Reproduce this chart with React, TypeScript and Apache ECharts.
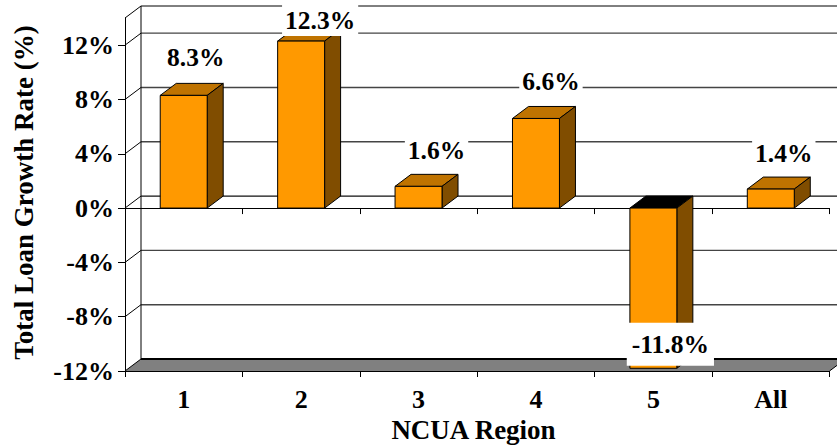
import React, { useEffect, useRef } from "react";
import * as echarts from "echarts";

const categories = ["1", "2", "3", "4", "5", "All"];
const growthRates = [8.3, 12.3, 1.6, 6.6, -11.8, 1.4];
const labelTexts = ["8.3%", "12.3%", "1.6%", "6.6%", "-11.8%", "1.4%"];
const yTicks = [-12, -8, -4, 0, 4, 8, 12];
const Y_MIN = -12;
const Y_MAX = 14;

// Hand-placed label nudges relative to the end of each bar's front face (px)
const labelNudges = [
  { dx: 12, dy: -38, pad: [2, 3] },
  { dx: 19, dy: -21, pad: [3, 3] },
  { dx: 18, dy: -36, pad: [2, 3] },
  { dx: 15, dy: -37, pad: [2, 3] },
  { dx: 17, dy: -24, pad: [9, 5, 8, 5] },
  { dx: 13, dy: -36, pad: [2, 3] },
];

const DEPTH_X = 16;
const DEPTH_Y = -12;
const SERIF = '"Liberation Serif", "Times New Roman", serif';
const FONT = `bold 25.5px ${SERIF}`;

const wallValues = [...yTicks.filter((v) => v !== 0), Y_MAX];

export default function App() {
  const ref = useRef<HTMLDivElement>(null);

  useEffect(() => {
    document.body.style.margin = "0";
    const chart = echarts.init(ref.current!, undefined, { renderer: "svg" });
    const axisText = { fontFamily: SERIF, fontWeight: "bold", fontSize: 26, color: "#000" };

    chart.setOption({
      animation: false,
      backgroundColor: "#fff",
      grid: { left: 125, top: 18, width: 704.5, height: 353, containLabel: false },
      xAxis: [
        {
          type: "category",
          data: categories,
          position: "bottom",
          axisLine: { onZero: false, lineStyle: { color: "#000", width: 1 } },
          axisTick: { show: true, length: 6, lineStyle: { color: "#000" } },
          axisLabel: { ...axisText, margin: 15, interval: 0 },
        },
        {
          type: "category",
          data: categories,
          position: "top",
          axisLine: { onZero: true, lineStyle: { color: "#000", width: 1 } },
          axisTick: { show: true, inside: true, length: 6, lineStyle: { color: "#000" } },
          axisLabel: { show: false },
        },
      ],
      yAxis: {
        type: "value",
        min: Y_MIN,
        max: Y_MAX,
        axisLine: { show: true, onZero: false, lineStyle: { color: "#000", width: 1 } },
        axisTick: { show: true, length: 7, customValues: yTicks, lineStyle: { color: "#000" } },
        axisLabel: { ...axisText, margin: 11, customValues: yTicks, formatter: "{value}%" },
        splitLine: { show: false },
      },
      graphic: [
        {
          type: "text",
          x: 24,
          y: 192.5,
          rotation: Math.PI / 2,
          style: {
            text: "Total Loan Growth Rate (%)",
            font: `bold 27px ${SERIF}`,
            fill: "#000",
            align: "center",
            verticalAlign: "middle",
          },
        },
        {
          type: "text",
          x: 473.5,
          y: 430,
          style: {
            text: "NCUA Region",
            font: `bold 27px ${SERIF}`,
            fill: "#000",
            align: "center",
            verticalAlign: "middle",
          },
        },
      ],
      series: [
        {
          // Back wall grid lines, left wall edges and the floor
          type: "custom",
          z: 1,
          silent: true,
          data: wallValues.map((v) => [0, v]),
          renderItem: (params: any, api: any) => {
            const cs = params.coordSys;
            const left = cs.x;
            const right = cs.x + cs.width;
            const y = api.coord([0, api.value(1)])[1];
            const children: any[] = [];
            const isTop = api.value(1) === Y_MAX;
            const isFloor = api.value(1) === Y_MIN;
            children.push({
              type: "line",
              shape: { x1: left, y1: y, x2: left + DEPTH_X, y2: y + DEPTH_Y },
              style: { stroke: "#000", lineWidth: 1 },
            });
            if (isFloor) {
              children.unshift({
                type: "polygon",
                shape: {
                  points: [
                    [left, y],
                    [left + DEPTH_X, y + DEPTH_Y],
                    [right + DEPTH_X, y + DEPTH_Y],
                    [right, y],
                  ],
                },
                style: { fill: "#808080", stroke: "none" },
              });
              children.push({
                type: "line",
                shape: { x1: left + DEPTH_X, y1: y + DEPTH_Y, x2: right + DEPTH_X, y2: y + DEPTH_Y },
                style: { stroke: "#000", lineWidth: 2 },
              });
              children.push({
                type: "line",
                shape: { x1: right, y1: y, x2: right + DEPTH_X, y2: y + DEPTH_Y },
                style: { stroke: "#000", lineWidth: 1 },
              });
            } else {
              children.push({
                type: "line",
                shape: { x1: left + DEPTH_X, y1: y + DEPTH_Y, x2: right + DEPTH_X, y2: y + DEPTH_Y },
                style: { stroke: isTop ? "#000" : "#444", lineWidth: isTop ? 1 : 1.4 },
              });
            }
            if (isTop) {
              const yb = api.coord([0, Y_MIN])[1];
              children.push({
                type: "line",
                shape: { x1: left + DEPTH_X, y1: y + DEPTH_Y, x2: left + DEPTH_X, y2: yb + DEPTH_Y },
                style: { stroke: "#000", lineWidth: 1 },
              });
            }
            return { type: "group", children };
          },
        },
        {
          // Zero plane back edge and its left-hand diagonal
          type: "custom",
          z: 1,
          silent: true,
          data: [[0, 0]],
          renderItem: (params: any, api: any) => {
            const cs = params.coordSys;
            const y = api.coord([0, 0])[1];
            return {
              type: "group",
              children: [
                {
                  type: "line",
                  shape: { x1: cs.x, y1: y, x2: cs.x + DEPTH_X, y2: y + DEPTH_Y },
                  style: { stroke: "#000", lineWidth: 1 },
                },
                {
                  type: "line",
                  shape: { x1: cs.x + DEPTH_X, y1: y + DEPTH_Y, x2: cs.x + cs.width + DEPTH_X, y2: y + DEPTH_Y },
                  style: { stroke: "#111", lineWidth: 1.4 },
                },
              ],
            };
          },
        },
        {
          // 3-D bars
          type: "custom",
          z: 2,
          silent: true,
          data: growthRates.map((v, i) => [i, v]),
          renderItem: (params: any, api: any) => {
            const i = api.value(0);
            const v = api.value(1);
            const w = api.size([1, 0])[0] * 0.4;
            const cx = api.coord([i, 0])[0];
            const y0 = api.coord([i, 0])[1];
            const yv = api.coord([i, v])[1];
            const xl = cx - w / 2;
            const xr = cx + w / 2;
            const yTop = Math.min(y0, yv);
            const yBot = Math.max(y0, yv);
            const border = { stroke: "#000", lineWidth: 1, lineJoin: "miter" };
            return {
              type: "group",
              children: [
                {
                  type: "polygon",
                  shape: {
                    points: [
                      [xl, yTop],
                      [xl + DEPTH_X, yTop + DEPTH_Y],
                      [xr + DEPTH_X, yTop + DEPTH_Y],
                      [xr, yTop],
                    ],
                  },
                  style: { fill: v < 0 ? "#000" : "#bf7300", ...border },
                },
                {
                  type: "polygon",
                  shape: {
                    points: [
                      [xr, yTop],
                      [xr + DEPTH_X, yTop + DEPTH_Y],
                      [xr + DEPTH_X, yBot + DEPTH_Y],
                      [xr, yBot],
                    ],
                  },
                  style: { fill: "#804d00", ...border },
                },
                {
                  type: "rect",
                  shape: { x: xl, y: yTop, width: w, height: yBot - yTop },
                  style: { fill: "#ff9900", ...border },
                },
              ],
            };
          },
        },
        {
          // Data labels on white boxes
          type: "custom",
          z: 3,
          silent: true,
          data: growthRates.map((v, i) => [i, v]),
          renderItem: (params: any, api: any) => {
            const i = api.value(0);
            const [x, y] = api.coord([i, api.value(1)]);
            const n = labelNudges[i];
            return {
              type: "text",
              x: x + n.dx,
              y: y + n.dy,
              style: {
                text: labelTexts[i],
                font: FONT,
                fill: "#000",
                align: "center",
                verticalAlign: "middle",
                backgroundColor: "#fff",
                padding: n.pad,
              },
            };
          },
        },
      ],
    });
    return () => chart.dispose();
  }, []);

  return <div ref={ref} style={{ width: 837, height: 447 }} />;
}
